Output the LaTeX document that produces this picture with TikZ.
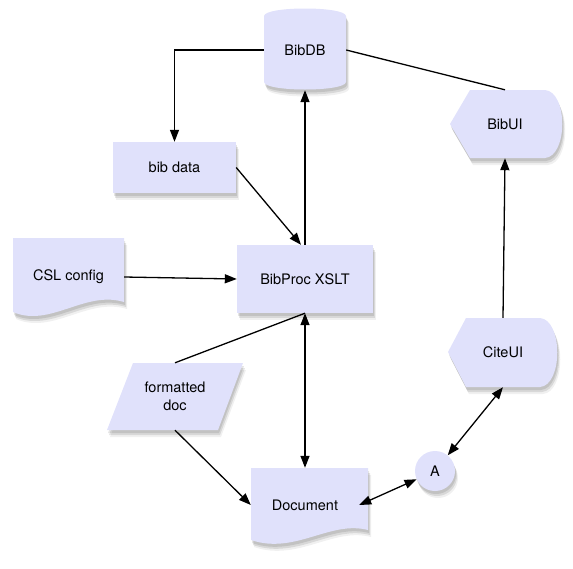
\documentclass[tikz,border=0pt]{standalone}
\usepackage{fontspec}
\setmainfont{TeX Gyre Heros}
\usetikzlibrary{arrows.meta,shadows,calc}
\definecolor{boxfill}{RGB}{224,225,251}
\begin{document}
\begin{tikzpicture}[x=1pt,y=-1pt,
  shade/.style={
    general shadow={shadow xshift=1pt,shadow yshift=-3pt,fill=black,opacity=0.10},
    general shadow={shadow xshift=2pt,shadow yshift=-5pt,fill=black,opacity=0.10},
    general shadow={shadow xshift=3pt,shadow yshift=-7pt,fill=black,opacity=0.06}},
  shapefill/.style={fill=boxfill,shade},
  lbl/.style={inner sep=0pt,font=\fontsize{14.5}{18}\selectfont,align=center},
  conn/.style={line width=1.3pt},
  arr/.style={-{Triangle[length=12pt,width=9pt]}},
  biarr/.style={{Triangle[length=12pt,width=9pt]}-{Triangle[length=12pt,width=9pt]}}]
\useasboundingbox (0,0) rectangle (573,568);
% custom shapes
\path[shapefill] (264,82) -- (264,16) .. controls (265,6) and (345,6) .. (346,16) -- (346,82) .. controls (345,92) and (265,92) .. (264,82) -- cycle;
\path[shapefill] (450,124) -- (470,90) -- (545,90) .. controls (568,92) and (568,156) .. (545,158) -- (470,158) -- cycle;
\path[shapefill] (448,352) -- (466,318) -- (540,318) .. controls (563,320) and (563,385) .. (540,387) -- (466,387) -- cycle;
\path[shapefill] (13,238) -- (124,238) -- (124,302) .. controls (85,290) and (50,328) .. (13,312) -- cycle;
\path[shapefill] (251,468) -- (368,468) -- (368,530) .. controls (330,520) and (295,555) .. (251,540) -- cycle;
\path[shapefill] (133,363) -- (243,363) -- (218,430) -- (107,430) -- cycle;
% nodes
\node[lbl,minimum width=82pt,minimum height=80pt] (bibdb) at (305,50) {BibDB};
\node[lbl,minimum width=113pt,minimum height=68pt] (bibui) at (505,124) {BibUI};
\node[lbl,minimum width=110pt,minimum height=69pt] (citeui) at (503,352.5) {CiteUI};
\node[lbl,minimum width=111pt,minimum height=60pt] (csl) at (68.5,277) {CSL config};
\node[lbl,minimum width=108pt,minimum height=74pt] (document) at (305,505) {Document};
\node[lbl,minimum width=110pt,minimum height=67pt] (fdoc) at (175,396.5) {formatted\\doc};
\node[lbl,shapefill,minimum width=123pt,minimum height=51pt] (bibdata) at (174.5,167.5) {bib data};
\node[lbl,shapefill,minimum width=136pt,minimum height=68pt] (bibproc) at (305,279) {BibProc XSLT};
\node[lbl,shapefill,circle,minimum size=40pt] (A) at (435,471) {A};
% connectors
\draw[conn,arr] (bibdb.west) -| (bibdata.north);
\draw[conn] (bibdb.east) -- (bibui.north);
\draw[conn,arr] (citeui.north) -- (bibui.south);
\draw[conn,arr] (bibdata.east) -- ($(bibproc.north)+(-4,0)$);
\draw[conn,arr] (bibproc.north) -- (bibdb.south);
\draw[conn,arr] (csl.east) -- (bibproc.west);
\draw[conn] (fdoc.north) -- (bibproc.south);
\draw[conn,biarr] (bibproc.south) -- (document.north);
\draw[conn,arr] (fdoc.south) -- (document.west);
\draw[conn,biarr] (document.east) -- (A);
\draw[conn,biarr] (A) -- (citeui.south);
\end{tikzpicture}
\end{document}
